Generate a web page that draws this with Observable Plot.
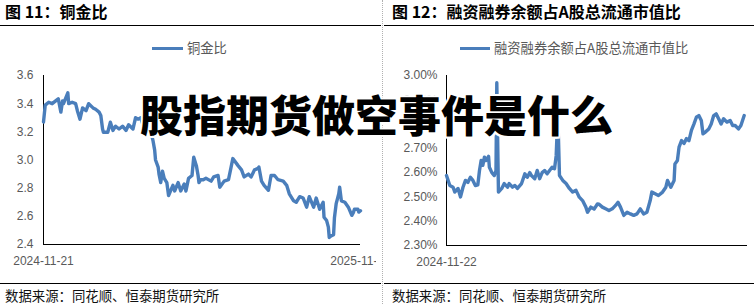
<!DOCTYPE html>
<html>
<head>
<meta charset="utf-8">
<script src="https://cdn.jsdelivr.net/npm/d3@7"></script>
<script src="https://cdn.jsdelivr.net/npm/@observablehq/plot@0.6"></script>
<style>
  html, body { margin: 0; padding: 0; background: #fff; }
  #wrap { position: relative; width: 754px; height: 304px; background: #fff; overflow: hidden; font-family: "Noto Sans CJK SC", "Noto Sans", sans-serif; }
  .abs { position: absolute; }
  .title { font-size: 16px; font-weight: 700; color: #000; line-height: 22px; white-space: nowrap; }
  .hline { height: 1px; background: #000; }
  .swatch { height: 3px; background: #4a7ebb; }
  .legtext { font-size: 13.3px; color: #595959; line-height: 18px; white-space: nowrap; }
  .source { font-size: 13.4px; color: #111; line-height: 15px; white-space: nowrap; }
  .vsep { width: 0; height: 304px; border-left: 1px dotted #b0b0b0; }
  .overlay { font-size: 43px; font-weight: 900; color: #000; line-height: 43px; white-space: nowrap; letter-spacing: 0;
    text-shadow: 2px 0 #fff, -2px 0 #fff, 0 2px #fff, 0 -2px #fff, 1.5px 1.5px #fff, -1.5px 1.5px #fff, 1.5px -1.5px #fff, -1.5px -1.5px #fff; }
</style>
</head>
<body>
<div id="wrap">
  <div class="abs title" style="left:5px;top:0px;">图 11：铜金比</div>
  <div class="abs title" style="left:392px;top:0px;">图 12：融资融券余额占A股总流通市值比</div>
  <div class="abs hline" style="left:0;top:25px;width:381px;"></div>
  <div class="abs hline" style="left:384px;top:25px;width:370px;"></div>
  <div class="abs vsep" style="left:382px;top:0;"></div>

  <div class="abs swatch" style="left:152px;top:47px;width:31px;"></div>
  <div class="abs legtext" style="left:187px;top:39px;" id="leg1"></div>
  <div class="abs swatch" style="left:460px;top:47px;width:30px;"></div>
  <div class="abs legtext" style="left:494px;top:39px;" id="leg2"></div>

  <div class="abs" id="chart1" style="left:0;top:60px;width:376px;height:215px;overflow:hidden;"></div>
  <div class="abs" id="chart2" style="left:383px;top:60px;width:371px;height:215px;overflow:hidden;"></div>

  <div class="abs hline" style="left:0;top:283px;width:381px;"></div>
  <div class="abs hline" style="left:384px;top:283px;width:370px;"></div>
  <div class="abs source" style="left:5px;top:288px;">数据来源：同花顺、恒泰期货研究所</div>
  <div class="abs source" style="left:392px;top:288px;">数据来源：同花顺、恒泰期货研究所</div>

  <div class="abs overlay" style="left:140px;top:92px;">股指期货做空事件是什么</div>
</div>
<script>
// ---- Chart 1: 铜金比 ----
const leftSeriesName = "铜金比";
const leftXTicks = [0, 365];
const leftXLabels = ["2024-11-21", "2025-11-21"];
const leftYTicks = [2.4, 2.6, 2.8, 3.0, 3.2, 3.4, 3.6];
const leftDays = [0,2,6,10,14,17,20,22,23,28,29,33,37,39,42,45,49,52,57,60,64,66,68,69,74,77,80,83,87,91,95,98,103,106,109,112,114,116,120,123,124,126,128,129,132,133,135,137,139,142,144,149,151,155,158,162,164,167,171,173,176,178,179,181,184,187,193,196,201,203,208,213,216,218,224,228,231,236,239,243,247,248,251,254,259,262,266,270,276,280,283,288,291,295,299,303,306,311,314,318,322,323,326,328,329,331,334,335,337,340,341,343,347,351,355,357,358,362,363,365];
const leftValues = [3.27,3.39,3.41,3.40,3.42,3.435,3.34,3.42,3.40,3.477,3.40,3.41,3.40,3.35,3.29,3.37,3.35,3.40,3.37,3.36,3.34,3.316,3.22,3.197,3.197,3.268,3.21,3.24,3.22,3.24,3.21,3.25,3.22,3.30,3.29,3.30,3.26,3.29,3.27,3.24,3.19,3.14,3.07,3.00,2.95,2.90,2.84,2.92,2.87,2.84,2.748,2.82,2.78,2.84,2.78,2.83,2.78,2.87,2.89,3.02,2.96,2.89,2.84,2.86,2.86,2.87,2.85,2.88,2.89,2.807,2.85,2.86,2.95,3.01,2.96,2.93,2.88,2.90,2.88,2.93,2.94,2.95,2.85,2.82,2.785,2.89,2.89,2.86,2.85,2.82,2.76,2.71,2.70,2.74,2.73,2.665,2.74,2.665,2.73,2.65,2.70,2.594,2.57,2.523,2.45,2.46,2.47,2.59,2.69,2.76,2.807,2.71,2.70,2.665,2.607,2.63,2.65,2.65,2.63,2.64];

// ---- Chart 2: 融资融券余额占A股总流通市值比 (%) ----
const rightSeriesName = "融资融券余额占A股总流通市值比";
const rightXTicks = [0];
const rightXLabels = ["2024-11-22"];
const rightYTicks = [2.3, 2.4, 2.5, 2.6, 2.7, 2.8, 2.9, 3.0];
const rightDays = [0,4,8,10,14,17,20,23,26,29,32,35,38,40,42,44,46,48,51,52,55,58,60,61,63,67,70,74,76,80,83,86,91,95,98,101,103,107,110,113,116,119,122,125,128,131,133,135,137,141,145,149,153,157,161,165,169,171,175,179,183,185,189,193,197,201,205,208,211,215,219,223,227,231,235,239,243,247,249,253,257,262,266,268,272,276,277,280,282,285,288,291,294,297,300,303,306,309,311,314,318,321,324,327,330,333,336,340,344,347,350,354,357,359,361];
const rightValues = [2.588,2.547,2.54,2.52,2.535,2.50,2.54,2.568,2.56,2.581,2.568,2.547,2.55,2.609,2.65,2.63,2.664,2.65,2.667,2.622,2.60,2.588,2.609,2.97,2.52,2.535,2.555,2.54,2.555,2.54,2.547,2.535,2.555,2.595,2.581,2.60,2.588,2.575,2.609,2.575,2.60,2.609,2.595,2.609,2.622,2.616,2.67,2.84,2.588,2.568,2.555,2.535,2.52,2.527,2.499,2.485,2.458,2.437,2.458,2.45,2.471,2.47,2.458,2.451,2.444,2.451,2.465,2.478,2.458,2.424,2.437,2.43,2.424,2.43,2.451,2.43,2.437,2.485,2.52,2.513,2.506,2.52,2.54,2.568,2.54,2.568,2.636,2.65,2.705,2.732,2.72,2.74,2.732,2.774,2.80,2.828,2.835,2.815,2.76,2.767,2.78,2.80,2.835,2.842,2.822,2.80,2.822,2.808,2.815,2.794,2.794,2.78,2.794,2.815,2.835];

document.getElementById("leg1").textContent = leftSeriesName;
document.getElementById("leg2").textContent = rightSeriesName;

const leftData = leftDays.map((d, i) => ({day: d, value: leftValues[i]}));
const rightData = rightDays.map((d, i) => ({day: d, value: rightValues[i]}));

const lineColor = "#4a7ebb";
const axisStyle = {fontFamily: "'Liberation Sans', Arial, sans-serif", fontSize: "12px", color: "#595959", background: "transparent"};

const chart1 = Plot.plot({
  width: 376, height: 215,
  marginLeft: 43, marginRight: 16, marginTop: 15, marginBottom: 31,
  x: {domain: [0, 365], axis: null},
  y: {domain: [2.4, 3.6], axis: null},
  style: axisStyle,
  marks: [
    Plot.axisY({ticks: leftYTicks, tickSize: 0, tickPadding: 10, label: null, tickFormat: d => d.toFixed(1)}),
    Plot.axisX({ticks: leftXTicks, tickSize: 0, tickPadding: 12, label: null, tickFormat: d => leftXLabels[leftXTicks.indexOf(d)]}),
    Plot.ruleX([0], {stroke: "#000"}),
    Plot.ruleY([2.4], {stroke: "#000"}),
    Plot.line(leftData, {x: "day", y: "value", stroke: lineColor, strokeWidth: 3.4, strokeLinejoin: "round", strokeLinecap: "round"})
  ]
});
document.getElementById("chart1").appendChild(chart1);

const chart2 = Plot.plot({
  width: 371, height: 215,
  marginLeft: 63, marginRight: 7, marginTop: 15, marginBottom: 30,
  x: {domain: [0, 365], axis: null},
  y: {domain: [2.3, 3.0], axis: null},
  style: axisStyle,
  marks: [
    Plot.axisY({ticks: rightYTicks, tickSize: 0, tickPadding: 9, label: null, tickFormat: d => d.toFixed(2) + "%"}),
    Plot.axisX({ticks: rightXTicks, tickSize: 0, tickPadding: 12, label: null, tickFormat: d => rightXLabels[rightXTicks.indexOf(d)]}),
    Plot.ruleX([0], {stroke: "#000"}),
    Plot.ruleY([2.3], {stroke: "#000"}),
    Plot.line(rightData, {x: "day", y: "value", stroke: lineColor, strokeWidth: 3.4, strokeLinejoin: "round", strokeLinecap: "round"})
  ]
});
document.getElementById("chart2").appendChild(chart2);
</script>
</body>
</html>
